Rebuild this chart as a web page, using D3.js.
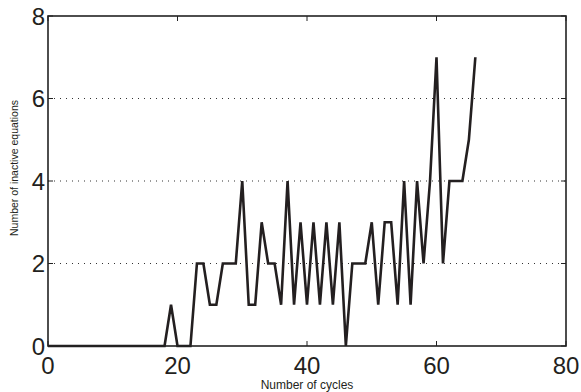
<!DOCTYPE html>
<html>
<head>
<meta charset="utf-8">
<script src="https://cdn.jsdelivr.net/npm/d3@7"></script>
<style>
  body { margin: 0; background: #fff; }
  svg { display: block; font-family: "Liberation Sans", Arial, sans-serif; }
</style>
</head>
<body>
<div id="chart"></div>
<script>
// Cycle index and inactive equations count
const cycles = d3.range(0, 67);
const inactive = [
  0, 0, 0, 0, 0, 0, 0, 0, 0, 0,
  0, 0, 0, 0, 0, 0, 0, 0, 0, 1,
  0, 0, 0, 2, 2, 1, 1, 2, 2, 2,
  4, 1, 1, 3, 2, 2, 1, 4, 1, 3,
  1, 3, 1, 3, 1, 3, 0, 2, 2, 2,
  3, 1, 3, 3, 1, 4, 1, 4, 2, 4,
  7, 2, 4, 4, 4, 5, 7
];
const xTicks = [0, 20, 40, 60, 80];
const yTicks = [0, 2, 4, 6, 8];
const gridValues = [2, 4, 6];

const width = 581, height = 392;
const margin = { top: 16, right: 15, bottom: 46, left: 48 };
const plotW = width - margin.left - margin.right;
const plotH = height - margin.top - margin.bottom;

const svg = d3.select('#chart').append('svg')
  .attr('width', width)
  .attr('height', height);

const chart = svg.append('g')
  .attr('transform', `translate(${margin.left},${margin.top})`);

const x = d3.scaleLinear().domain([0, 80]).range([0, plotW]);
const y = d3.scaleLinear().domain([0, 8]).range([plotH, 0]);

// dotted horizontal grid
chart.append('g')
  .selectAll('line')
  .data(gridValues)
  .enter()
  .append('line')
  .attr('x1', 0)
  .attr('x2', plotW)
  .attr('y1', d => y(d))
  .attr('y2', d => y(d))
  .attr('stroke', '#333')
  .attr('stroke-width', 1)
  .attr('stroke-dasharray', '1,5');

// inward ticks on all four sides
const tickLen = 5;
const ticks = chart.append('g').attr('stroke', '#222').attr('stroke-width', 1);
xTicks.forEach(t => {
  ticks.append('line').attr('x1', x(t)).attr('x2', x(t)).attr('y1', plotH).attr('y2', plotH - tickLen);
  ticks.append('line').attr('x1', x(t)).attr('x2', x(t)).attr('y1', 0).attr('y2', tickLen);
});
yTicks.forEach(t => {
  ticks.append('line').attr('x1', 0).attr('x2', tickLen).attr('y1', y(t)).attr('y2', y(t));
  ticks.append('line').attr('x1', plotW).attr('x2', plotW - tickLen).attr('y1', y(t)).attr('y2', y(t));
});

// data line
const line = d3.line()
  .x((d, i) => x(cycles[i]))
  .y(d => y(d));

chart.append('path')
  .datum(inactive)
  .attr('fill', 'none')
  .attr('stroke', '#231f20')
  .attr('stroke-width', 2.6)
  .attr('stroke-linejoin', 'miter')
  .attr('d', line);

// frame
chart.append('rect')
  .attr('x', 0)
  .attr('y', 0)
  .attr('width', plotW)
  .attr('height', plotH)
  .attr('fill', 'none')
  .attr('stroke', '#222')
  .attr('stroke-width', 1.6);

// tick labels
chart.append('g')
  .selectAll('text')
  .data(xTicks)
  .enter()
  .append('text')
  .attr('x', d => x(d))
  .attr('y', plotH + 28)
  .attr('text-anchor', 'middle')
  .attr('font-size', 24)
  .attr('fill', '#231f20')
  .text(d => d);

chart.append('g')
  .selectAll('text')
  .data(yTicks)
  .enter()
  .append('text')
  .attr('x', -3)
  .attr('y', d => y(d))
  .attr('dy', '0.36em')
  .attr('text-anchor', 'end')
  .attr('font-size', 24)
  .attr('fill', '#231f20')
  .text(d => d);

// axis titles
svg.append('text')
  .attr('x', margin.left + plotW / 2)
  .attr('y', height - 3)
  .attr('text-anchor', 'middle')
  .attr('font-size', 12)
  .attr('fill', '#231f20')
  .text('Number of cycles');

svg.append('text')
  .attr('transform', `translate(18,168) rotate(-90)`)
  .attr('text-anchor', 'middle')
  .attr('font-size', 10.5)
  .attr('fill', '#231f20')
  .text('Number of inactive equations');
</script>
</body>
</html>
